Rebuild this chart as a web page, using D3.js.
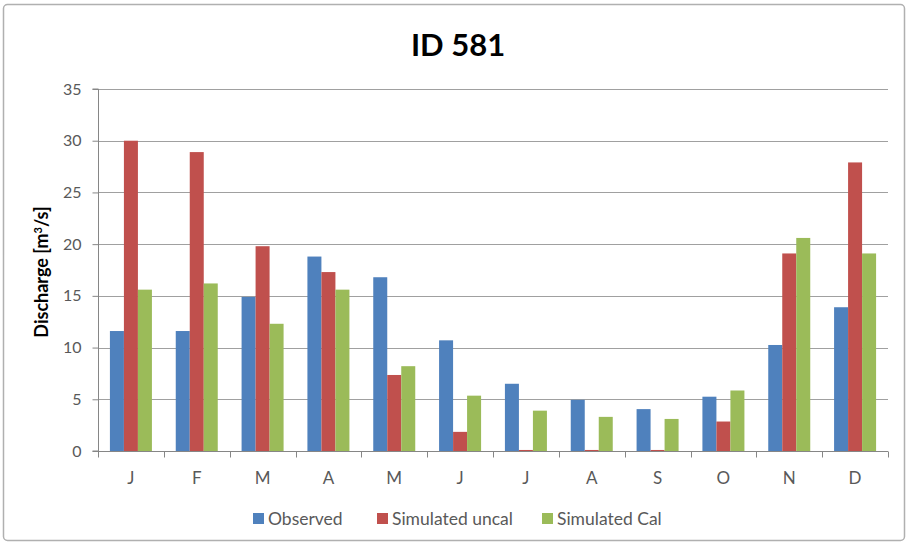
<!DOCTYPE html>
<html><head><meta charset="utf-8">
<script src="https://cdn.jsdelivr.net/npm/d3@7"></script>
<style>body{margin:0;background:#fff}</style>
</head><body>
<script>
const months = ["J","F","M","A","M","J","J","A","S","O","N","D"];
const seriesNames = ["Observed","Simulated uncal","Simulated Cal"];
const observed = [11.6,11.6,14.9,18.8,16.8,10.7,6.5,4.95,4.05,5.25,10.25,13.9];
const simUncal = [30.0,28.9,19.8,17.3,7.35,1.85,0.1,0.1,0.1,2.85,19.1,27.9];
const simCal   = [15.6,16.2,12.3,15.6,8.2,5.35,3.9,3.3,3.1,5.85,20.6,19.1];
const yTicks = [0,5,10,15,20,25,30,35];
const colors = ["#4F81BD","#C0504D","#9BBB59"];

const FONT="Lato, 'Open Sans', sans-serif";
const W=909,H=545;
const svg=d3.select("body").append("svg").attr("width",W).attr("height",H);
svg.append("rect").attr("x",3.5).attr("y",4.5).attr("width",901).attr("height",536)
  .attr("rx",4).attr("fill","#fff").attr("stroke","#b0b0b0").attr("stroke-width",1.5);

const L=98,R=888,T=89,B=451;
const x0=d3.scaleBand().domain(d3.range(12)).range([L,R]).paddingInner(0.362).paddingOuter(0.181);
const x1=d3.scaleBand().domain(d3.range(3)).range([0,x0.bandwidth()]);
const y=d3.scaleLinear().domain([0,35]).range([B,T]);

// gridlines
svg.append("g").selectAll("line").data(yTicks.filter(d=>d>0)).join("line")
  .attr("x1",L).attr("x2",R).attr("y1",d=>Math.round(y(d))+0.5).attr("y2",d=>Math.round(y(d))+0.5)
  .attr("stroke","#a0a0a0").attr("stroke-width",1);

// bars
const data=months.map((m,i)=>[observed[i],simUncal[i],simCal[i]]);
const g=svg.append("g");
data.forEach((vals,i)=>{
  g.selectAll(null).data(vals).join("rect")
   .attr("x",(d,j)=>x0(i)+x1(j)).attr("width",x1.bandwidth())
   .attr("y",d=>y(d)).attr("height",d=>B-y(d)).attr("fill",(d,j)=>colors[j]);
});

// y axis
const ya=svg.append("g").attr("transform",`translate(${L+0.5},0)`)
  .call(d3.axisLeft(y).tickValues(yTicks).tickSize(6).tickPadding(11));
ya.select(".domain").attr("stroke","#868686").attr("d",`M-6,${B}H0V${T}H-6`);
ya.selectAll(".tick line").attr("stroke","#868686");
ya.selectAll(".tick text").attr("fill","#595959").style("font-family",FONT).style("font-size","16px");

// x axis
const xs=d3.scalePoint().domain(d3.range(13)).range([L,R]);
const xa=svg.append("g").attr("transform",`translate(0,${B+0.5})`);
xa.append("line").attr("x1",L).attr("x2",R).attr("stroke","#868686");
xa.selectAll(".tk").data(d3.range(13)).join("line").attr("class","tk")
  .attr("x1",d=>Math.round(xs(d))+0.5).attr("x2",d=>Math.round(xs(d))+0.5).attr("y1",0).attr("y2",6).attr("stroke","#868686");
xa.selectAll("text").data(months).join("text")
  .attr("x",(d,i)=>x0(i)+x0.bandwidth()/2).attr("y",32)
  .attr("text-anchor","middle").attr("fill","#595959")
  .style("font-family",FONT).style("font-size","17px").text(d=>d);

// title
svg.append("text").attr("x",458).attr("y",56).attr("text-anchor","middle")
  .style("font-family",FONT).style("font-weight","bold").style("font-size","31px")
  .attr("fill","#000").text("ID 581");

// y label
svg.append("text").attr("transform","translate(48,272) rotate(-90)").attr("text-anchor","middle")
  .style("font-family",FONT).style("font-weight","bold").style("font-size","18px")
  .attr("fill","#000").html("Discharge [m<tspan baseline-shift='super' font-size='11px'>3</tspan>/s]");

// legend
const legX=[253,377,542];
const lg=svg.append("g");
seriesNames.forEach((n,i)=>{
  lg.append("rect").attr("x",legX[i]).attr("y",513).attr("width",11).attr("height",11).attr("fill",colors[i]);
  lg.append("text").attr("x",legX[i]+15).attr("y",525).attr("fill","#595959")
    .style("font-family",FONT).style("font-size","17.5px").text(n);
});
</script>
</body></html>
